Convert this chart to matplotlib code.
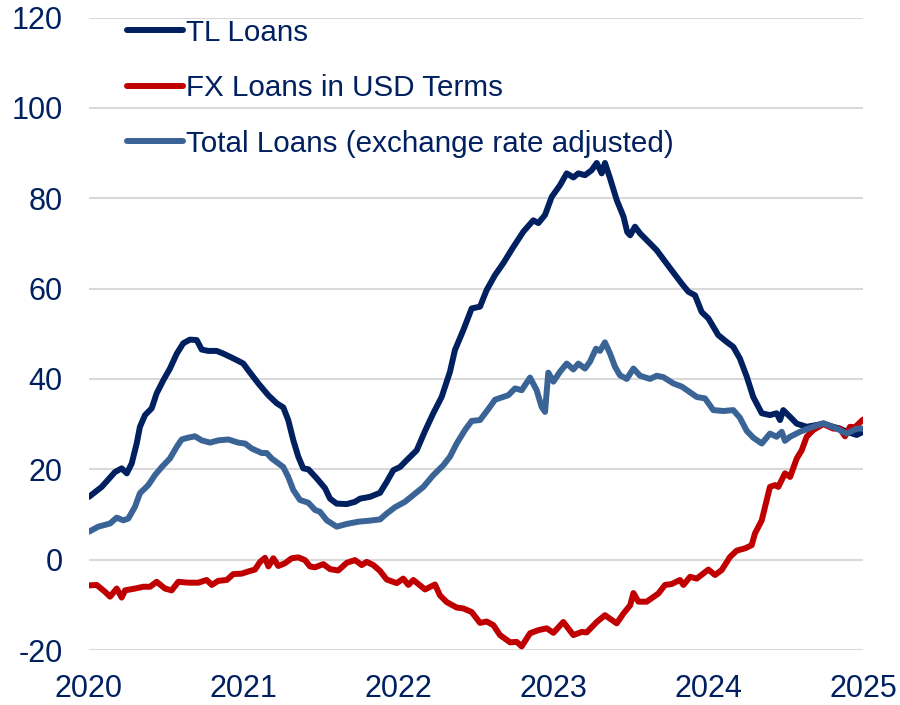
import matplotlib
matplotlib.use("Agg")
import matplotlib.pyplot as plt

plt.rcParams['font.family'] = ['Liberation Sans', 'DejaVu Sans']

# ---- data (decimal years, % values) ----
tl_x = [2020.00, 2020.082, 2020.168, 2020.211, 2020.244, 2020.276, 2020.308, 2020.329, 2020.362, 2020.405,
        2020.437, 2020.480, 2020.523, 2020.567, 2020.609, 2020.652, 2020.696, 2020.728, 2020.771, 2020.825,
        2020.868, 2020.911, 2020.964, 2020.997, 2021.029, 2021.094, 2021.158, 2021.213, 2021.255, 2021.287,
        2021.320, 2021.352, 2021.384, 2021.417, 2021.471, 2021.525, 2021.557, 2021.600, 2021.665, 2021.718,
        2021.751, 2021.815, 2021.880, 2021.923, 2021.966, 2022.009, 2022.052, 2022.117, 2022.171, 2022.224,
        2022.278, 2022.332, 2022.364, 2022.418, 2022.472, 2022.526, 2022.569, 2022.623, 2022.676, 2022.741,
        2022.806, 2022.870, 2022.903, 2022.946, 2022.989, 2023.043, 2023.086, 2023.129, 2023.161, 2023.204,
        2023.247, 2023.280, 2023.312, 2023.333, 2023.366, 2023.409, 2023.453, 2023.477, 2023.496, 2023.527,
        2023.560, 2023.624, 2023.667, 2023.754, 2023.829, 2023.872, 2023.915, 2023.958, 2024.001, 2024.065,
        2024.119, 2024.162, 2024.205, 2024.249, 2024.291, 2024.346, 2024.399, 2024.442, 2024.464, 2024.485,
        2024.529, 2024.572, 2024.636, 2024.701, 2024.744, 2024.808, 2024.851, 2024.895, 2024.959, 2025.00]
tl_y = [13.9, 16.1, 19.4, 20.2, 19.1, 21.3, 25.7, 29.4, 32.0, 33.5,
        36.8, 39.7, 42.3, 45.6, 47.9, 48.7, 48.6, 46.5, 46.2, 46.2,
        45.6, 44.9, 44.0, 43.4, 41.9, 39.0, 36.4, 34.6, 33.7, 30.9,
        26.4, 22.8, 20.2, 20.0, 18.0, 15.8, 13.5, 12.4, 12.3, 12.8,
        13.5, 13.9, 14.8, 17.2, 19.8, 20.5, 22.0, 24.2, 28.5, 32.4,
        36.0, 41.6, 46.4, 50.8, 55.6, 56.0, 59.7, 63.0, 65.6, 69.2,
        72.6, 75.1, 74.5, 76.3, 80.3, 82.9, 85.5, 84.6, 85.5, 85.1,
        86.2, 87.8, 85.5, 87.8, 84.4, 79.6, 75.9, 72.5, 71.8, 73.7,
        72.2, 70.0, 68.5, 64.5, 61.1, 59.3, 58.5, 54.8, 53.4, 49.7,
        48.2, 47.1, 44.5, 40.5, 36.0, 32.4, 32.0, 32.4, 30.9, 33.1,
        31.6, 30.1, 29.4, 29.8, 30.1, 29.4, 29.0, 28.3, 27.6, 28.3]

fx_x = [2020.00, 2020.050, 2020.103, 2020.136, 2020.179, 2020.211, 2020.233, 2020.297, 2020.351, 2020.394,
        2020.437, 2020.491, 2020.534, 2020.577, 2020.641, 2020.706, 2020.760, 2020.793, 2020.835, 2020.890,
        2020.932, 2020.986, 2021.040, 2021.072, 2021.105, 2021.137, 2021.159, 2021.191, 2021.223, 2021.266,
        2021.309, 2021.352, 2021.395, 2021.428, 2021.460, 2021.514, 2021.557, 2021.610, 2021.665, 2021.718,
        2021.762, 2021.794, 2021.837, 2021.880, 2021.923, 2021.988, 2022.030, 2022.063, 2022.095, 2022.171,
        2022.235, 2022.267, 2022.311, 2022.375, 2022.418, 2022.472, 2022.526, 2022.569, 2022.612, 2022.655,
        2022.720, 2022.763, 2022.795, 2022.849, 2022.903, 2022.957, 2023.000, 2023.064, 2023.129, 2023.183,
        2023.215, 2023.280, 2023.333, 2023.409, 2023.453, 2023.496, 2023.517, 2023.549, 2023.603, 2023.678,
        2023.721, 2023.764, 2023.818, 2023.840, 2023.883, 2023.926, 2024.001, 2024.044, 2024.087, 2024.141,
        2024.184, 2024.238, 2024.281, 2024.302, 2024.346, 2024.378, 2024.399, 2024.432, 2024.453, 2024.496,
        2024.529, 2024.572, 2024.604, 2024.636, 2024.679, 2024.744, 2024.808, 2024.851, 2024.884, 2024.916,
        2024.948, 2025.00]
fx_y = [-5.7, -5.6, -7.1, -8.2, -6.4, -8.4, -6.8, -6.4, -6.0, -6.0,
        -4.9, -6.4, -6.8, -4.9, -5.1, -5.1, -4.5, -5.6, -4.7, -4.5,
        -3.2, -3.1, -2.5, -2.2, -0.5, 0.4, -1.5, 0.3, -1.4, -0.8,
        0.3, 0.5, -0.1, -1.5, -1.7, -1.0, -2.1, -2.4, -0.7, -0.1,
        -1.2, -0.5, -1.2, -2.5, -4.4, -5.2, -4.2, -5.6, -4.5, -6.6,
        -5.5, -7.9, -9.4, -10.6, -10.8, -11.6, -14.0, -13.7, -14.5, -16.7,
        -18.3, -18.2, -19.2, -16.3, -15.6, -15.2, -16.2, -13.8, -16.7, -16.0,
        -16.1, -13.8, -12.3, -14.1, -11.9, -10.1, -7.4, -9.3, -9.3, -7.5,
        -5.6, -5.4, -4.5, -5.6, -3.8, -4.2, -2.2, -3.4, -2.3, 0.6,
        2.0, 2.5, 3.2, 5.8, 8.7, 13.2, 16.1, 16.5, 16.1, 19.1,
        18.3, 22.4, 24.2, 27.2, 28.7, 30.0, 29.0, 29.0, 27.3, 29.4,
        29.3, 31.0]

tot_x = [2020.00, 2020.060, 2020.136, 2020.179, 2020.222, 2020.254, 2020.297, 2020.329, 2020.383, 2020.426,
         2020.470, 2020.523, 2020.567, 2020.599, 2020.641, 2020.685, 2020.728, 2020.782, 2020.835, 2020.900,
         2020.964, 2021.008, 2021.051, 2021.116, 2021.148, 2021.180, 2021.255, 2021.287, 2021.320, 2021.363,
         2021.417, 2021.460, 2021.492, 2021.536, 2021.600, 2021.665, 2021.740, 2021.804, 2021.880, 2021.923,
         2021.977, 2022.041, 2022.095, 2022.160, 2022.224, 2022.289, 2022.332, 2022.375, 2022.429, 2022.472,
         2022.526, 2022.579, 2022.623, 2022.709, 2022.752, 2022.795, 2022.849, 2022.892, 2022.924, 2022.946,
         2022.967, 2023.000, 2023.043, 2023.086, 2023.129, 2023.161, 2023.204, 2023.236, 2023.275, 2023.301,
         2023.333, 2023.366, 2023.398, 2023.430, 2023.474, 2023.517, 2023.560, 2023.624, 2023.667, 2023.710,
         2023.775, 2023.829, 2023.872, 2023.926, 2023.979, 2024.033, 2024.098, 2024.162, 2024.205, 2024.249,
         2024.291, 2024.346, 2024.399, 2024.442, 2024.475, 2024.496, 2024.529, 2024.593, 2024.677, 2024.744,
         2024.830, 2024.895, 2024.959, 2025.00]
tot_y = [6.2, 7.3, 8.0, 9.3, 8.7, 9.1, 11.7, 14.7, 16.5, 18.7,
         20.5, 22.4, 25.0, 26.6, 27.0, 27.3, 26.4, 25.9, 26.4, 26.6,
         25.9, 25.7, 24.6, 23.6, 23.6, 22.4, 20.5, 18.3, 15.4, 13.2,
         12.6, 11.0, 10.6, 8.7, 7.3, 7.9, 8.4, 8.6, 8.9, 10.2,
         11.6, 12.8, 14.3, 16.1, 18.7, 20.9, 22.8, 25.7, 28.7, 30.7,
         30.9, 33.3, 35.4, 36.4, 37.9, 37.5, 40.3, 37.5, 33.8, 32.7,
         41.4, 39.4, 41.6, 43.4, 42.1, 43.4, 42.3, 43.8, 46.7, 46.2,
         48.1, 45.6, 42.7, 40.8, 40.0, 42.3, 40.7, 40.0, 40.7, 40.4,
         39.0, 38.3, 37.3, 36.0, 35.7, 33.1, 32.9, 33.1, 31.4, 28.5,
         27.0, 25.7, 27.9, 27.2, 28.3, 26.3, 27.2, 28.3, 29.4, 30.2,
         29.0, 27.9, 29.0, 29.0]

labels = ["TL Loans", "FX Loans in USD Terms", "Total Loans (exchange rate adjusted)"]
colors = ["#002060", "#C00000", "#3A6496"]
x_ticks = [2020, 2021, 2022, 2023, 2024, 2025]
y_ticks = [-20, 0, 20, 40, 60, 80, 100, 120]

text_color = "#002060"

fig = plt.figure(figsize=(9, 7.05), dpi=100)
ax = fig.add_axes([89/900, 1 - 650/705, (863-89)/900, (650-17.5)/705])

for xs, ys, c, lab in [(tl_x, tl_y, colors[0], labels[0]),
                       (fx_x, fx_y, colors[1], labels[1]),
                       (tot_x, tot_y, colors[2], labels[2])]:
    ax.plot(xs, ys, color=c, lw=4.3, label=lab, solid_capstyle='round',
            solid_joinstyle='round', zorder=3)

ax.set_xlim(2020, 2025)
ax.set_ylim(-20, 120)
ax.set_xticks(x_ticks)
ax.set_xticklabels([str(t) for t in x_ticks])
ax.set_yticks(y_ticks)
ax.set_yticklabels([str(t) for t in y_ticks])
ax.grid(axis='y', color='#D9D9D9', lw=1.5, zorder=0)
ax.grid(axis='x', visible=False)
for s in ax.spines.values():
    s.set_visible(False)
ax.tick_params(axis='both', length=0, labelsize=22, labelcolor=text_color)
ax.tick_params(axis='y', pad=19)
ax.tick_params(axis='x', pad=17)

leg = ax.legend(loc='upper left', bbox_to_anchor=((127-89)/774, 1.0 - 1/632), frameon=False,
                prop={'size': 21.3}, handlelength=1.9, handletextpad=0.1, labelspacing=0.93,
                borderpad=0, borderaxespad=0)
for t in leg.get_texts():
    t.set_color(text_color)
for h in leg.get_lines():
    h.set_linewidth(4.3)
    h.set_solid_capstyle('round')

fig.savefig("out.png", dpi=100)
